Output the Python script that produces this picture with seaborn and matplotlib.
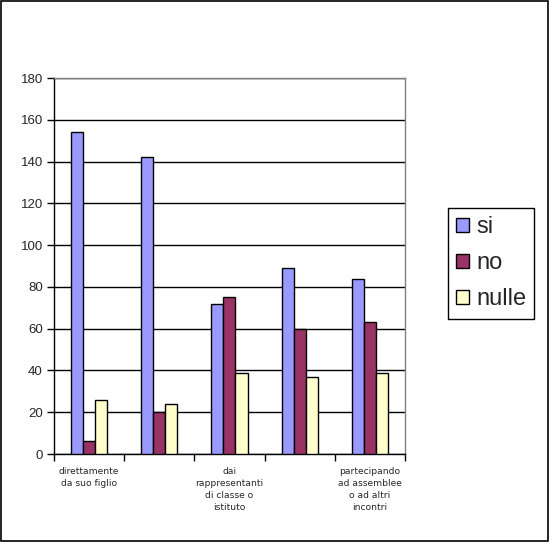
import pandas as pd
import matplotlib.pyplot as plt
import seaborn as sns
from matplotlib.patches import Rectangle

# dati
categorie = ['c1', 'c2', 'c3', 'c4', 'c5']
etichette = ['direttamente\nda suo figlio', '', 'dai\nrappresentanti\ndi classe o\nistituto', '',
             'partecipando\nad assemblee\no ad altri\nincontri']
serie = ['si', 'no', 'nulle']
si = [154, 142, 72, 89, 84]
no = [6, 20, 75, 60, 63]
nulle = [26, 24, 39, 37, 39]
colori = ['#9999FF', '#993366', '#FFFFCC']

df = pd.DataFrame({
    'cat': categorie * 3,
    'serie': ['si'] * 5 + ['no'] * 5 + ['nulle'] * 5,
    'val': si + no + nulle,
})

sns.set_style('white')
plt.rcParams['font.family'] = ['Liberation Sans', 'DejaVu Sans']

fig = plt.figure(figsize=(5.52, 5.44), dpi=100)
ax = fig.add_axes([0.0978, 0.1654, 0.6359, 0.6912])

sns.barplot(data=df, x='cat', y='val', hue='serie', order=categorie, hue_order=serie,
            palette=colori, edgecolor='black', linewidth=1, width=0.513, gap=0,
            saturation=1, errorbar=None, ax=ax, zorder=3)

ax.set_ylim(0, 180)
ax.set_xlim(-0.5, 4.5)
ax.set_yticks(range(0, 181, 20))
ax.yaxis.grid(True, color='black', linewidth=1, zorder=0)
ax.set_axisbelow(True)
ax.set_xlabel('')
ax.set_ylabel('')

ax.set_xticks(range(5))
ax.set_xticklabels(etichette, fontsize=6.6, linespacing=1.45, family='DejaVu Sans')
ax.set_xticks([i - 0.5 for i in range(6)], minor=True)
ax.tick_params(axis='x', which='major', length=0, pad=9)
ax.tick_params(axis='x', which='minor', length=5, width=1, color='black', direction='out')
ax.tick_params(axis='y', length=5, width=1, color='black', direction='out', labelsize=9.5, pad=3)
ax.tick_params(axis='y', which='both', left=True)
ax.tick_params(axis='x', which='minor', bottom=True)

for s in ['left', 'bottom']:
    ax.spines[s].set_color('black')
    ax.spines[s].set_linewidth(1)
for s in ['top', 'right']:
    ax.spines[s].set_color('#808080')
    ax.spines[s].set_linewidth(1)

ax.legend_.remove()
handles = [Rectangle((0, 0), 1, 1, facecolor=c, edgecolor='black', linewidth=1) for c in colori]
leg = fig.legend(handles, serie, loc='center left', bbox_to_anchor=(0.811, 0.516),
                 bbox_transform=fig.transFigure, fontsize=17, frameon=True, fancybox=False,
                 edgecolor='black', framealpha=1, handlelength=0.55, handleheight=0.55,
                 handletextpad=0.3, labelspacing=0.6, borderpad=0.35, borderaxespad=0)
leg.get_frame().set_linewidth(1)

fig.patches.append(Rectangle((1 / 552, 3 / 544), 547 / 552, 540 / 544, transform=fig.transFigure,
                             fill=False, edgecolor='black', linewidth=1.2))

fig.savefig('out.png', dpi=100)
